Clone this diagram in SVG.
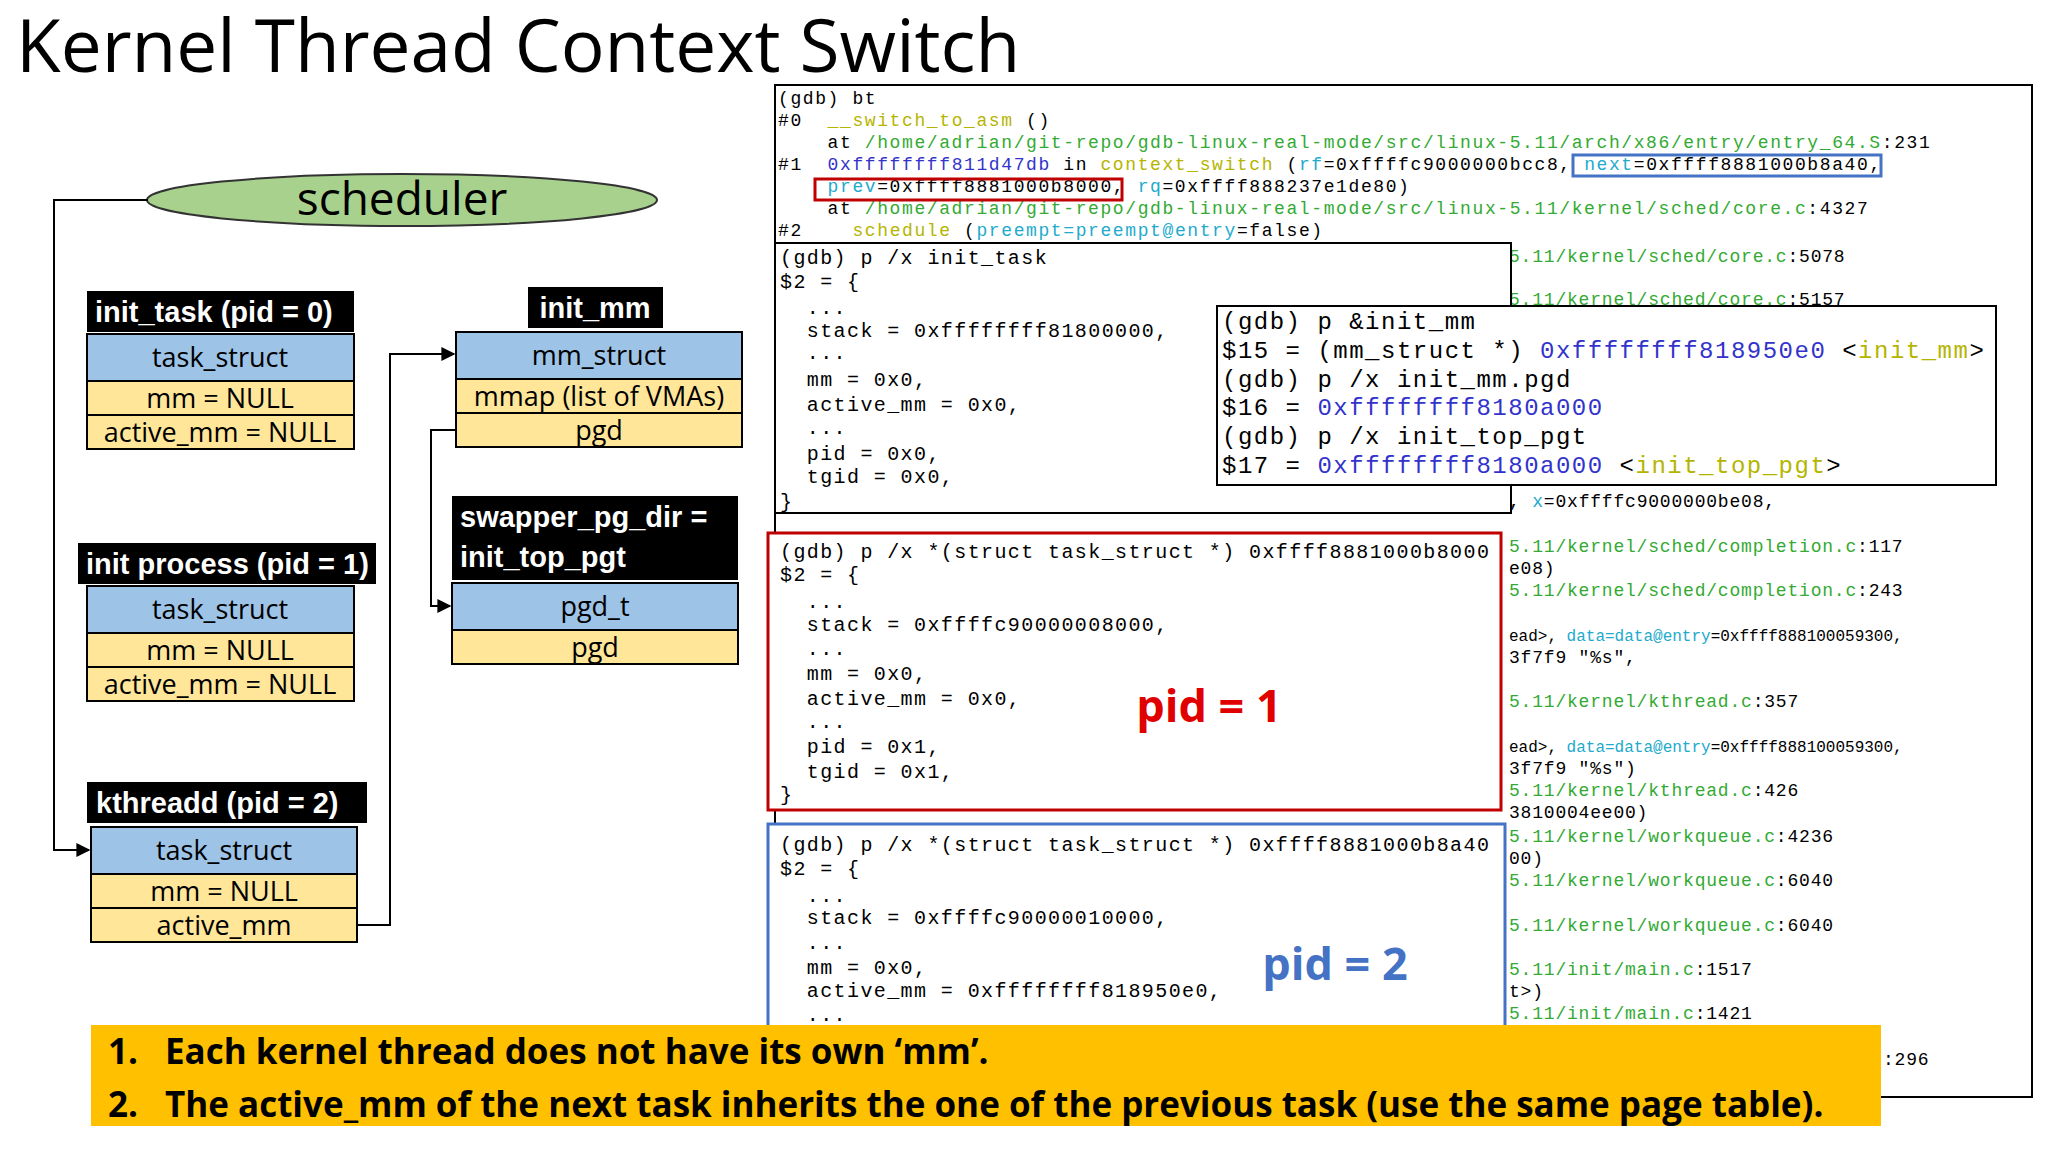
<svg xmlns="http://www.w3.org/2000/svg" width="2048" height="1152" viewBox="0 0 2048 1152">
<style>
.lbl{fill:#000}
.lt{font-family:"Liberation Sans",Arial,sans-serif;font-weight:bold;font-size:29px;fill:#fff}
.bt{font-family:"Open Sans","Liberation Sans",sans-serif;font-size:27px;fill:#000;text-anchor:middle}
.b{fill:#9dc3e6;stroke:#000;stroke-width:2}
.y{fill:#ffe699;stroke:#000;stroke-width:2}
.m{font-family:"Liberation Mono","Courier New",monospace;font-size:18px;letter-spacing:1.6px;fill:#000}
.m2{font-family:"Liberation Mono","Courier New",monospace;font-size:20px;letter-spacing:1.4px;fill:#000}
.m4{font-family:"Liberation Mono","Courier New",monospace;font-size:18px;letter-spacing:0.8px;fill:#000}
.m5{font-family:"Liberation Mono","Courier New",monospace;font-size:16px;letter-spacing:0px;fill:#000}
.m3{font-family:"Liberation Mono","Courier New",monospace;font-size:24px;letter-spacing:1.5px;fill:#000}
.g{fill:#33aa33}.c{fill:#22aacc}.f{fill:#b5b500}.a{fill:#3333cc}
.con{fill:none;stroke:#000;stroke-width:2}
</style>
<defs><marker id="ar" viewBox="0 0 10 10" refX="9" refY="5" markerWidth="7" markerHeight="7" orient="auto"><path d="M0,0L10,5L0,10z" fill="#000"/></marker></defs>
<rect width="2048" height="1152" fill="#fff"/>
<text x="16" y="72" font-family="'Open Sans','Liberation Sans',sans-serif" font-size="73">Kernel Thread Context Switch</text>

<g id="gdb">
<rect x="775" y="85" width="1257" height="1012" fill="#fff" stroke="#000" stroke-width="2"/>
<g class="m">
<text xml:space="preserve" x="778" y="104">(gdb) bt</text>
<text xml:space="preserve" x="778" y="126">#0  <tspan class="f">__switch_to_asm</tspan> ()</text>
<text xml:space="preserve" x="778" y="148">    at <tspan class="g">/home/adrian/git-repo/gdb-linux-real-mode/src/linux-5.11/arch/x86/entry/entry_64.S</tspan>:231</text>
<text xml:space="preserve" x="778" y="170">#1  <tspan class="a">0xffffffff811d47db</tspan> in <tspan class="f">context_switch</tspan> (<tspan class="c">rf</tspan>=0xffffc9000000bcc8, <tspan class="c">next</tspan>=0xffff8881000b8a40,</text>
<text xml:space="preserve" x="778" y="192">    <tspan class="c">prev</tspan>=0xffff8881000b8000, <tspan class="c">rq</tspan>=0xffff888237e1de80)</text>
<text xml:space="preserve" x="778" y="214">    at <tspan class="g">/home/adrian/git-repo/gdb-linux-real-mode/src/linux-5.11/kernel/sched/core.c</tspan>:4327</text>
<text xml:space="preserve" x="778" y="236">#2    <tspan class="f">schedule</tspan> (<tspan class="c">preempt=preempt@entry</tspan>=false)</text>
</g>
<rect x="1573" y="155" width="308" height="21" fill="none" stroke="#4472c4" stroke-width="3"/>
<rect x="815" y="179" width="307" height="21" fill="none" stroke="#c00000" stroke-width="3"/>
<g class="m4">
<text x="1509" y="262"><tspan class="g">5.11/kernel/sched/core.c</tspan>:5078</text>
<text x="1509" y="305"><tspan class="g">5.11/kernel/sched/core.c</tspan>:5157</text>
<text xml:space="preserve" x="1509" y="507">, <tspan class="c">x</tspan>=0xffffc9000000be08,</text>
<text x="1509" y="552"><tspan class="g">5.11/kernel/sched/completion.c</tspan>:117</text>
<text x="1509" y="574">e08)</text>
<text x="1509" y="596"><tspan class="g">5.11/kernel/sched/completion.c</tspan>:243</text>
<text xml:space="preserve" x="1509" y="641" class="m5">ead&gt;, <tspan class="c">data=data@entry</tspan>=0xffff888100059300,</text>
<text xml:space="preserve" x="1509" y="663">3f7f9 "%s",</text>
<text x="1509" y="707"><tspan class="g">5.11/kernel/kthread.c</tspan>:357</text>
<text xml:space="preserve" x="1509" y="752" class="m5">ead&gt;, <tspan class="c">data=data@entry</tspan>=0xffff888100059300,</text>
<text xml:space="preserve" x="1509" y="774">3f7f9 "%s")</text>
<text x="1509" y="796"><tspan class="g">5.11/kernel/kthread.c</tspan>:426</text>
<text x="1509" y="818">3810004ee00)</text>
<text x="1509" y="842"><tspan class="g">5.11/kernel/workqueue.c</tspan>:4236</text>
<text x="1509" y="864">00)</text>
<text x="1509" y="886"><tspan class="g">5.11/kernel/workqueue.c</tspan>:6040</text>
<text x="1509" y="931"><tspan class="g">5.11/kernel/workqueue.c</tspan>:6040</text>
<text x="1509" y="975"><tspan class="g">5.11/init/main.c</tspan>:1517</text>
<text x="1509" y="997">t&gt;)</text>
<text x="1509" y="1019"><tspan class="g">5.11/init/main.c</tspan>:1421</text>
<text x="1883" y="1065">:296</text>
</g>
</g>

<g id="init_task_box">
<rect x="775" y="243" width="736" height="270" fill="#fff" stroke="#000" stroke-width="2"/>
<g class="m2">
<text xml:space="preserve" x="780" y="264">(gdb) p /x init_task</text>
<text xml:space="preserve" x="780" y="288">$2 = {</text>
<text xml:space="preserve" x="780" y="314">  ...</text>
<text xml:space="preserve" x="780" y="337">  stack = 0xffffffff81800000,</text>
<text xml:space="preserve" x="780" y="359">  ...</text>
<text xml:space="preserve" x="780" y="386">  mm = 0x0,</text>
<text xml:space="preserve" x="780" y="411">  active_mm = 0x0,</text>
<text xml:space="preserve" x="780" y="434">  ...</text>
<text xml:space="preserve" x="780" y="460">  pid = 0x0,</text>
<text xml:space="preserve" x="780" y="483">  tgid = 0x0,</text>
<text xml:space="preserve" x="780" y="508">}</text>
</g>
</g>

<g id="init_mm_box">
<rect x="1217" y="306" width="779" height="179" fill="#fff" stroke="#000" stroke-width="2"/>
<g class="m3">
<text xml:space="preserve" x="1222" y="329">(gdb) p &amp;init_mm</text>
<text xml:space="preserve" x="1222" y="358">$15 = (mm_struct *) <tspan class="a">0xffffffff818950e0</tspan> &lt;<tspan class="f">init_mm</tspan>&gt;</text>
<text xml:space="preserve" x="1222" y="387">(gdb) p /x init_mm.pgd</text>
<text xml:space="preserve" x="1222" y="415">$16 = <tspan class="a">0xffffffff8180a000</tspan></text>
<text xml:space="preserve" x="1222" y="444">(gdb) p /x init_top_pgt</text>
<text xml:space="preserve" x="1222" y="473">$17 = <tspan class="a">0xffffffff8180a000</tspan> &lt;<tspan class="f">init_top_pgt</tspan>&gt;</text>
</g>
</g>

<g id="pid1_box">
<rect x="768" y="533" width="733" height="277" fill="#fff" stroke="#c00000" stroke-width="3"/>
<g class="m2">
<text xml:space="preserve" x="780" y="558">(gdb) p /x *(struct task_struct *) 0xffff8881000b8000</text>
<text xml:space="preserve" x="780" y="581">$2 = {</text>
<text xml:space="preserve" x="780" y="608">  ...</text>
<text xml:space="preserve" x="780" y="631">  stack = 0xffffc90000008000,</text>
<text xml:space="preserve" x="780" y="655">  ...</text>
<text xml:space="preserve" x="780" y="680">  mm = 0x0,</text>
<text xml:space="preserve" x="780" y="705">  active_mm = 0x0,</text>
<text xml:space="preserve" x="780" y="728">  ...</text>
<text xml:space="preserve" x="780" y="753">  pid = 0x1,</text>
<text xml:space="preserve" x="780" y="778">  tgid = 0x1,</text>
<text xml:space="preserve" x="780" y="801">}</text>
</g>
<text x="1209" y="722" text-anchor="middle" font-family="'Open Sans','Liberation Sans',sans-serif" font-weight="bold" font-size="45" fill="#e00000">pid = 1</text>
</g>

<g id="pid2_box">
<rect x="768" y="824" width="737" height="220" fill="#fff" stroke="#4472c4" stroke-width="3"/>
<g class="m2">
<text xml:space="preserve" x="780" y="851">(gdb) p /x *(struct task_struct *) 0xffff8881000b8a40</text>
<text xml:space="preserve" x="780" y="875">$2 = {</text>
<text xml:space="preserve" x="780" y="902">  ...</text>
<text xml:space="preserve" x="780" y="924">  stack = 0xffffc90000010000,</text>
<text xml:space="preserve" x="780" y="949">  ...</text>
<text xml:space="preserve" x="780" y="974">  mm = 0x0,</text>
<text xml:space="preserve" x="780" y="997">  active_mm = 0xffffffff818950e0,</text>
<text xml:space="preserve" x="780" y="1021">  ...</text>
</g>
<text x="1335" y="980" text-anchor="middle" font-family="'Open Sans','Liberation Sans',sans-serif" font-weight="bold" font-size="45" fill="#4472c4">pid = 2</text>
</g>

<g id="scheduler">
<ellipse cx="402" cy="200" rx="255" ry="26" fill="#a9d18e" stroke="#333" stroke-width="2"/>
<text x="402" y="215" text-anchor="middle" font-family="'Open Sans','Liberation Sans',sans-serif" font-size="46">scheduler</text>
</g>

<g id="init_task">
<rect x="87" y="291" width="267" height="41" class="lbl"/>
<text x="95" y="322" class="lt">init_task (pid = 0)</text>
<rect x="87" y="334" width="267" height="47" class="b"/><text x="220" y="367" class="bt">task_struct</text>
<rect x="87" y="381" width="267" height="34" class="y"/><text x="220" y="408" class="bt">mm = NULL</text>
<rect x="87" y="415" width="267" height="34" class="y"/><text x="220" y="442" class="bt">active_mm = NULL</text>
</g>

<g id="init_process">
<rect x="78" y="543" width="298" height="41" class="lbl"/>
<text x="86" y="574" class="lt">init process (pid = 1)</text>
<rect x="87" y="586" width="267" height="47" class="b"/><text x="220" y="619" class="bt">task_struct</text>
<rect x="87" y="633" width="267" height="34" class="y"/><text x="220" y="660" class="bt">mm = NULL</text>
<rect x="87" y="667" width="267" height="34" class="y"/><text x="220" y="694" class="bt">active_mm = NULL</text>
</g>

<g id="kthreadd">
<rect x="87" y="782" width="280" height="41" class="lbl"/>
<text x="96" y="813" class="lt">kthreadd (pid = 2)</text>
<rect x="91" y="827" width="266" height="47" class="b"/><text x="224" y="860" class="bt">task_struct</text>
<rect x="91" y="874" width="266" height="34" class="y"/><text x="224" y="901" class="bt">mm = NULL</text>
<rect x="91" y="908" width="266" height="34" class="y"/><text x="224" y="935" class="bt">active_mm</text>
</g>

<g id="init_mm">
<rect x="528" y="287" width="135" height="41" class="lbl"/>
<text x="595" y="318" class="lt" text-anchor="middle">init_mm</text>
<rect x="456" y="332" width="286" height="47" class="b"/><text x="599" y="365" class="bt">mm_struct</text>
<rect x="456" y="379" width="286" height="34" class="y"/><text x="599" y="406" class="bt">mmap (list of VMAs)</text>
<rect x="456" y="413" width="286" height="34" class="y"/><text x="599" y="440" class="bt">pgd</text>
</g>

<g id="swapper_pg_dir">
<rect x="452" y="496" width="286" height="84" class="lbl"/>
<text x="460" y="527" class="lt">swapper_pg_dir =</text>
<text x="460" y="567" class="lt">init_top_pgt</text>
<rect x="452" y="583" width="286" height="47" class="b"/><text x="595" y="616" class="bt">pgd_t</text>
<rect x="452" y="630" width="286" height="34" class="y"/><text x="595" y="657" class="bt">pgd</text>
</g>

<g id="connectors">
<polyline class="con" points="148,200 54,200 54,850 89,850" marker-end="url(#ar)"/>
<polyline class="con" points="357,925 390,925 390,354 454,354" marker-end="url(#ar)"/>
<polyline class="con" points="456,430 431,430 431,606 450,606" marker-end="url(#ar)"/>
</g>

<g id="notes">
<rect x="91" y="1025" width="1790" height="101" fill="#ffc000"/>
<g font-family="'Open Sans','Liberation Sans',sans-serif" font-weight="bold" font-size="35" fill="#000">
<text x="108" y="1064">1.</text><text x="165" y="1064">Each kernel thread does not have its own ‘mm’.</text>
<text x="108" y="1117">2.</text><text x="165" y="1117">The active_mm of the next task inherits the one of the previous task (use the same page table).</text>
</g>
</g>
</svg>
